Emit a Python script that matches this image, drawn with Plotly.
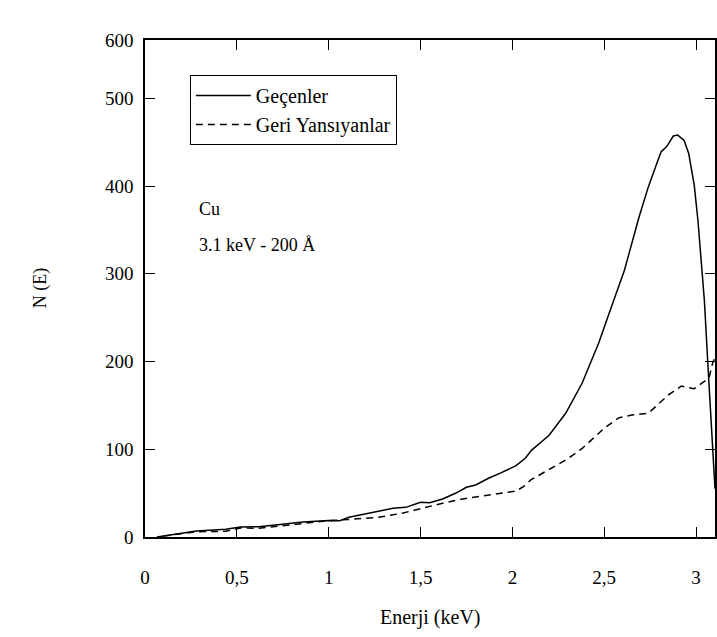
import plotly.graph_objects as go

# Geçenler (transmitted) – solid
x_gec = [0.065, 0.15, 0.28, 0.44, 0.52, 0.62, 0.73, 0.86, 1.0, 1.06, 1.11, 1.2, 1.29, 1.35,
         1.42, 1.5, 1.55, 1.62, 1.69, 1.75, 1.8, 1.87, 1.94, 2.02, 2.07, 2.105, 2.2, 2.29,
         2.38, 2.47, 2.52, 2.57, 2.61, 2.69, 2.74, 2.79, 2.81, 2.84, 2.876, 2.90, 2.935,
         2.96, 2.99, 3.01, 3.03, 3.045, 3.065, 3.09, 3.103]
y_gec = [0, 3, 6.8, 8.8, 11.4, 11.7, 14.5, 17.1, 18.8, 18.6, 22.4, 26.2, 30.8, 32.7,
         33.8, 39.5, 39.1, 43.3, 49.8, 56.7, 59.3, 66.9, 73.3, 81.3, 89.7, 99, 116, 141,
         175.5, 221, 251, 281, 304, 365, 399, 428, 439, 445, 457, 458, 452,
         437, 401, 361, 312, 270, 194, 99, 55]

# Geri Yansıyanlar (backscattered) – dashed
x_geri = [0.1, 0.28, 0.44, 0.52, 0.62, 0.73, 0.86, 1.0, 1.11, 1.27, 1.4, 1.51, 1.62, 1.73,
          1.84, 1.96, 2.02, 2.06, 2.1, 2.2, 2.3, 2.38, 2.45, 2.5, 2.58, 2.65, 2.74, 2.8,
          2.85, 2.92, 2.99, 3.07, 3.09, 3.103]
y_geri = [1, 6, 6.5, 10.3, 9.9, 12.5, 15.6, 18.6, 20, 22.4, 27.1, 32.8, 38.5, 43.3,
          47.2, 50.6, 52.4, 57.3, 65, 77, 89, 101, 114, 124, 136, 139, 141, 153,
          162, 172, 169, 181, 198, 205]

x_tickvals = [0, 0.5, 1, 1.5, 2, 2.5, 3]
x_ticktext = ["0", "0,5", "1", "1,5", "2", "2,5", "3"]
y_tickvals = [0, 100, 200, 300, 400, 500, 566.4]
y_ticktext = ["0", "100", "200", "300", "400", "500", "600"]

FONT = "Liberation Serif"

fig = go.Figure()
fig.add_trace(go.Scatter(x=x_gec, y=y_gec, mode="lines", name="Geçenler",
                         line=dict(color="black", width=1.5)))
fig.add_trace(go.Scatter(x=x_geri, y=y_geri, mode="lines", name="Geri Yansıyanlar",
                         line=dict(color="black", width=1.5, dash="7px,5px")))

fig.update_layout(
    width=717, height=637,
    margin=dict(l=145, r=0, t=40, b=100),
    paper_bgcolor="white", plot_bgcolor="white",
    font=dict(family=FONT, size=19, color="black"),
    showlegend=True,
    legend=dict(x=0.0787, y=0.9296, xanchor="left", yanchor="top",
                bordercolor="black", borderwidth=1, bgcolor="white",
                font=dict(family=FONT, size=20), itemwidth=55,
                tracegroupgap=0),
)
fig.update_xaxes(range=[0, 3.103], tickvals=x_tickvals, ticktext=x_ticktext,
                 ticks="inside", ticklen=10, tickwidth=1.2, tickcolor="black",
                 showline=True, linecolor="black", linewidth=1.5, mirror="ticks",
                 showgrid=False, zeroline=False, ticklabelstandoff=22,
                 tickfont=dict(family=FONT, size=19))
fig.update_yaxes(range=[0, 566.4], tickvals=y_tickvals, ticktext=y_ticktext,
                 ticks="inside", ticklen=10, tickwidth=1.2, tickcolor="black",
                 showline=True, linecolor="black", linewidth=1.5, mirror="ticks",
                 showgrid=False, zeroline=False, ticklabelstandoff=6,
                 tickfont=dict(family=FONT, size=19))

fig.add_annotation(text="Enerji (keV)", xref="paper", yref="paper", x=0.5, y=-0.19,
                   showarrow=False, font=dict(family=FONT, size=20))
fig.add_annotation(text="N (E)", xref="paper", yref="paper", x=-0.205, y=0.5,
                   textangle=-90, showarrow=False, font=dict(family=FONT, size=18))
fig.add_annotation(text="Cu", xref="paper", yref="paper", x=0.0909, y=0.684,
                   xanchor="left", showarrow=False, font=dict(family=FONT, size=18))
fig.add_annotation(text="3.1 keV - 200 Å", xref="paper", yref="paper", x=0.0909, y=0.5875,
                   xanchor="left", showarrow=False, font=dict(family=FONT, size=18))

fig.write_html("out.html")
